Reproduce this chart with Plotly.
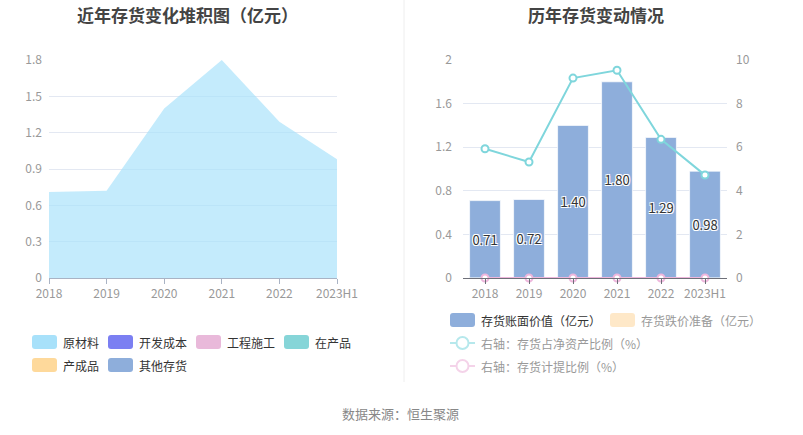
import plotly.graph_objects as go

W, H = 803, 435
FONT = "Noto Sans CJK SC, Noto Sans, sans-serif"

# ---------------- data ----------------
years = ["2018", "2019", "2020", "2021", "2022", "2023H1"]
raw_material = [0.71, 0.72, 1.40, 1.80, 1.29, 0.98]
dev_cost = [0, 0, 0, 0, 0, 0]
construction = [0, 0, 0, 0, 0, 0]
wip = [0, 0, 0, 0, 0, 0]
finished = [0, 0, 0, 0, 0, 0]
other_inv = [0, 0, 0, 0, 0, 0]

book_value = [0.71, 0.72, 1.40, 1.80, 1.29, 0.98]
impairment = [0, 0, 0, 0, 0, 0]
ratio_net_assets = [5.93, 5.32, 9.17, 9.53, 6.36, 4.72]
provision_ratio = [0, 0, 0, 0, 0, 0]

left_names = ["原材料", "开发成本", "工程施工", "在产品", "产成品", "其他存货"]
left_colors = ["#a8e1fa", "#7b7ff2", "#e9b9da", "#86d5d8", "#fed99b", "#8eaedb"]
left_series = [raw_material, dev_cost, construction, wip, finished, other_inv]


def px(x):
    return x / W


def py(y):
    return 1 - y / H


fig = go.Figure()

# ---------------- left: stacked area ----------------
xi = list(range(len(years)))
for name, col, vals in zip(left_names, left_colors, left_series):
    r, g, b = int(col[1:3], 16), int(col[3:5], 16), int(col[5:7], 16)
    fig.add_trace(go.Scatter(
        x=xi, y=vals, name=name, stackgroup="one", mode="lines",
        line=dict(width=0, color=col),
        fillcolor=f"rgba({r},{g},{b},0.68)",
        xaxis="x", yaxis="y", showlegend=False,
        hovertemplate="%{y}<extra>" + name + "</extra>",
    ))

# ---------------- right: bars + lines ----------------
fig.add_trace(go.Bar(
    x=xi, y=book_value, name="存货账面价值（亿元）",
    marker=dict(color="#8eaedb", line=dict(color="rgba(255,255,255,0.7)", width=1)),
    width=0.7,
    texttemplate="%{y:.2f}", textposition="inside", insidetextanchor="middle",
    textangle=0, constraintext="none",
    textfont=dict(color="#333", size=13, family=FONT,
                  shadow="-1px -1px 0 #fff, 1px -1px 0 #fff, -1px 1px 0 #fff, 1px 1px 0 #fff"),
    xaxis="x2", yaxis="y2", showlegend=False,
))
fig.add_trace(go.Bar(
    x=xi, y=impairment, name="存货跌价准备（亿元）",
    marker=dict(color="#fee8c8"), width=0.7,
    xaxis="x2", yaxis="y2", showlegend=False,
))
fig.add_trace(go.Scatter(
    x=xi, y=ratio_net_assets, name="右轴：存货占净资产比例（%）",
    mode="lines+markers",
    line=dict(color="#7fd6dc", width=2),
    marker=dict(symbol="circle", size=7, color="white", line=dict(color="#7fd6dc", width=2)),
    xaxis="x2", yaxis="y3", showlegend=False,
))
fig.add_trace(go.Scatter(
    x=xi, y=provision_ratio, name="右轴：存货计提比例（%）",
    mode="lines+markers",
    line=dict(color="#eeb6dc", width=2),
    marker=dict(symbol="circle", size=7, color="white", line=dict(color="#eeb6dc", width=2)),
    xaxis="x2", yaxis="y3", showlegend=False, cliponaxis=False,
))

tickfont = dict(color="#999", size=12, family=FONT)
grid = "#e3e8f2"

fig.update_layout(
    width=W, height=H, margin=dict(l=0, r=0, t=0, b=0, autoexpand=False),
    paper_bgcolor="white", plot_bgcolor="white",
    font=dict(family=FONT),
    barmode="overlay", showlegend=False,
    xaxis=dict(domain=[px(49), px(337)], range=[0, 5], tickvals=xi, ticktext=years,
               showgrid=False, zeroline=False, showline=True, linecolor="#a9b3c4",
               ticks="outside", ticklen=5, tickcolor="#a9b3c4", tickfont=tickfont,
               anchor="y", fixedrange=True, automargin=False),
    yaxis=dict(domain=[py(278), py(60)], range=[0, 1.8], dtick=0.3, tick0=0,
               gridcolor=grid, zeroline=False, showline=False, tickfont=tickfont,
               ticks="", ticklabelstandoff=6, anchor="x", automargin=False),
    xaxis2=dict(domain=[px(463), px(727)], range=[-0.5, 5.5], tickvals=xi, ticktext=years,
                showgrid=False, zeroline=False, showline=True, linecolor="#6e7079",
                ticks="outside", ticklen=5, tickcolor="#6e7079", tickfont=tickfont,
                anchor="y2", automargin=False),
    yaxis2=dict(domain=[py(278), py(60)], range=[0, 2], dtick=0.4, tick0=0,
                gridcolor=grid, zeroline=False, showline=False, tickfont=tickfont,
                ticks="", ticklabelstandoff=10, anchor="x2", automargin=False),
    yaxis3=dict(domain=[py(278), py(60)], range=[0, 10], dtick=2, overlaying="y2",
                side="right", showgrid=False, zeroline=False, showline=False,
                tickfont=tickfont, ticks="", ticklabelstandoff=8, anchor="x2",
                automargin=False),
)

shapes = []
annotations = []

# divider
shapes.append(dict(type="line", xref="paper", yref="paper", x0=px(404), x1=px(404),
                   y0=py(0), y1=py(382), line=dict(color="#eeeeee", width=1)))

# titles
annotations.append(dict(text="<b>近年存货变化堆积图（亿元）</b>", x=px(187), y=py(14),
                        xref="paper", yref="paper", showarrow=False, xanchor="center",
                        yanchor="middle", font=dict(size=17, color="#444", family=FONT)))
annotations.append(dict(text="<b>历年存货变动情况</b>", x=px(596), y=py(14),
                        xref="paper", yref="paper", showarrow=False, xanchor="center",
                        yanchor="middle", font=dict(size=17, color="#444", family=FONT)))

# source
annotations.append(dict(text="数据来源：恒生聚源", x=px(400), y=py(413),
                        xref="paper", yref="paper", showarrow=False, xanchor="center",
                        yanchor="middle", font=dict(size=13, color="#888", family=FONT)))


def rrect(x0, y0, w, h, r, color):
    x1, y1 = x0 + w, y0 + h
    pts = [
        (x0 + r, y0), (x1 - r, y0), (x1, y0), (x1, y0 + r), (x1, y1 - r), (x1, y1),
        (x1 - r, y1), (x0 + r, y1), (x0, y1), (x0, y1 - r), (x0, y0 + r), (x0, y0),
    ]
    P = [(px(a), py(b)) for a, b in pts]
    path = (f"M{P[0][0]},{P[0][1]} L{P[1][0]},{P[1][1]} Q{P[2][0]},{P[2][1]} {P[3][0]},{P[3][1]} "
            f"L{P[4][0]},{P[4][1]} Q{P[5][0]},{P[5][1]} {P[6][0]},{P[6][1]} "
            f"L{P[7][0]},{P[7][1]} Q{P[8][0]},{P[8][1]} {P[9][0]},{P[9][1]} "
            f"L{P[10][0]},{P[10][1]} Q{P[11][0]},{P[11][1]} {P[0][0]},{P[0][1]} Z")
    return dict(type="path", xref="paper", yref="paper", path=path,
                fillcolor=color, line=dict(width=0))


def legend_text(text, x, y, color):
    return dict(text=text, x=px(x), y=py(y), xref="paper", yref="paper", showarrow=False,
                xanchor="left", yanchor="middle", font=dict(size=12, color=color, family=FONT))


# left legend
left_pos = [(32, 342), (108, 342), (196, 342), (284, 342), (32, 365), (108, 365)]
for (lx, ly), name, col in zip(left_pos, left_names, left_colors):
    shapes.append(rrect(lx, ly - 7, 25, 14, 3, col))
    annotations.append(legend_text(name, lx + 29, ly, "#333"))

# right legend
shapes.append(rrect(450, 313, 25, 14, 3, "#8eaedb"))
annotations.append(legend_text("存货账面价值（亿元）", 479, 320, "#333"))
shapes.append(rrect(610, 313, 25, 14, 3, "#fee8c8"))
annotations.append(legend_text("存货跌价准备（亿元）", 639, 320, "#999"))

for ly, col, name in [(343, "#b6e8ec", "右轴：存货占净资产比例（%）"),
                      (366, "#f4d3e9", "右轴：存货计提比例（%）")]:
    shapes.append(dict(type="line", xref="paper", yref="paper", x0=px(450), x1=px(475),
                       y0=py(ly), y1=py(ly), line=dict(color=col, width=2)))
    shapes.append(dict(type="circle", xref="paper", yref="paper",
                       x0=px(456.5), x1=px(468.5), y0=py(ly + 6), y1=py(ly - 6),
                       fillcolor="white", line=dict(color=col, width=2)))
    annotations.append(legend_text(name, 479, ly, "#999"))

fig.update_layout(shapes=shapes, annotations=annotations)

fig.write_html(
    "out.html",
    config={"displayModeBar": False},
    post_script="document.body.style.margin='0';document.body.style.overflow='hidden';",
)
